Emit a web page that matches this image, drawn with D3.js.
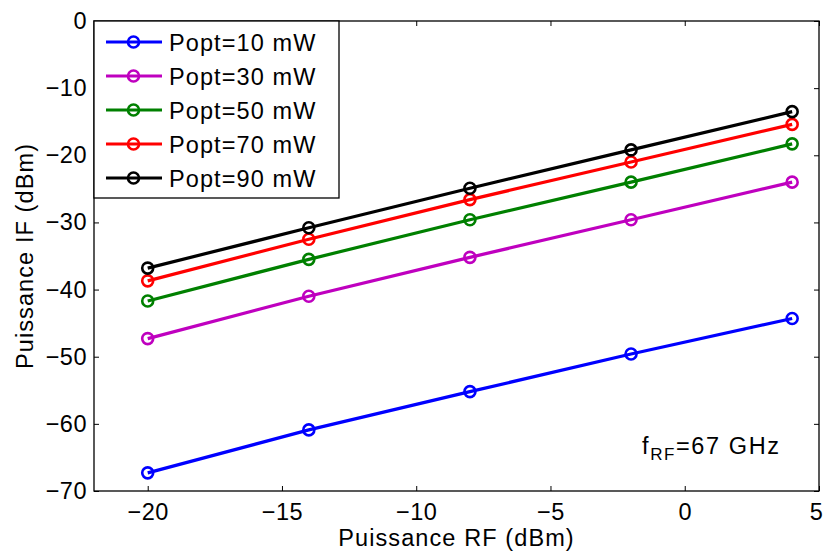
<!DOCTYPE html>
<html>
<head>
<meta charset="utf-8">
<script src="https://cdnjs.cloudflare.com/ajax/libs/d3/7.8.5/d3.min.js"></script>
<style>
  body { margin: 0; background: #fff; }
  text { font-family: "Liberation Sans", Arial, sans-serif; letter-spacing: 1.1px; }
</style>
</head>
<body>
<script>
// RF power sweep (dBm)
var rfPower = [-20, -14, -8, -2, 4];

// IF power (dBm) for each optical power
var popt10 = [-67.3, -60.9, -55.2, -49.6, -44.3];
var popt30 = [-47.3, -41.0, -35.2, -29.6, -24.0];
var popt50 = [-41.7, -35.5, -29.6, -24.0, -18.3];
var popt70 = [-38.7, -32.5, -26.6, -21.0, -15.4];
var popt90 = [-36.8, -30.8, -24.9, -19.2, -13.5];

var seriesNames = ["Popt=10 mW", "Popt=30 mW", "Popt=50 mW", "Popt=70 mW", "Popt=90 mW"];
var seriesColors = ["#0000ff", "#bf00bf", "#008000", "#ff0000", "#000000"];
var seriesValues = [popt10, popt30, popt50, popt70, popt90];

var xTicks = [-20, -15, -10, -5, 0, 5];
var yTicks = [0, -10, -20, -30, -40, -50, -60, -70];

var width = 825, height = 554;
var margin = {top: 21, right: 6, bottom: 63, left: 94};
var fs = 23.5;

var svg = d3.select("body").append("svg")
    .attr("width", width)
    .attr("height", height);

var x = d3.scaleLinear().domain([-22, 5]).range([margin.left, width - margin.right]);
var y = d3.scaleLinear().domain([-70, 0]).range([height - margin.bottom, margin.top]);

var minus = function(d) { return d < 0 ? "\u2212" + Math.abs(d) : "" + d; };

// axes, ticks inward on all four sides
var gx = svg.append("g")
    .attr("transform", "translate(0," + y(-70) + ")")
    .call(d3.axisBottom(x).tickValues(xTicks).tickSizeInner(-5).tickSizeOuter(0).tickPadding(12).tickFormat(minus));
var gxt = svg.append("g")
    .attr("transform", "translate(0," + y(0) + ")")
    .call(d3.axisTop(x).tickValues(xTicks).tickSizeInner(-5).tickSizeOuter(0).tickFormat(""));
var gy = svg.append("g")
    .attr("transform", "translate(" + x(-22) + ",0)")
    .call(d3.axisLeft(y).tickValues(yTicks).tickSizeInner(-5).tickSizeOuter(0).tickPadding(7).tickFormat(minus));
var gyr = svg.append("g")
    .attr("transform", "translate(" + x(5) + ",0)")
    .call(d3.axisRight(y).tickValues(yTicks).tickSizeInner(-5).tickSizeOuter(0).tickFormat(""));

[gx, gxt, gy, gyr].forEach(function(g) {
  g.select(".domain").remove();
  g.selectAll("line").attr("stroke", "#000").attr("stroke-width", 1);
  g.selectAll("text").attr("font-size", fs).attr("fill", "#000")
    .style("letter-spacing", "0.5px")
    .style("font-family", "'Liberation Sans', Arial, sans-serif");
});
// keep the last x label inside the page
gx.selectAll(".tick text").filter(function(d) { return d === 5; }).attr("dx", -3);

svg.append("rect")
    .attr("x", x(-22)).attr("y", y(0))
    .attr("width", x(5) - x(-22)).attr("height", y(-70) - y(0))
    .attr("fill", "none").attr("stroke", "#000").attr("stroke-width", 1.3);

// series
var line = d3.line()
    .x(function(d, i) { return x(rfPower[i]); })
    .y(function(d) { return y(d); });

seriesValues.forEach(function(vals, s) {
  svg.append("path")
      .datum(vals)
      .attr("d", line)
      .attr("fill", "none")
      .attr("stroke", seriesColors[s])
      .attr("stroke-width", 3.2);
  svg.selectAll(".m" + s)
      .data(vals)
      .enter().append("circle")
      .attr("cx", function(d, i) { return x(rfPower[i]); })
      .attr("cy", function(d) { return y(d); })
      .attr("r", 5.5)
      .attr("fill", "none")
      .attr("stroke", seriesColors[s])
      .attr("stroke-width", 2.6);
});

// legend
var legend = svg.append("g");
legend.append("rect")
    .attr("x", x(-22)).attr("y", y(0))
    .attr("width", 245).attr("height", 177)
    .attr("fill", "#fff").attr("stroke", "#000").attr("stroke-width", 1.3);

seriesNames.forEach(function(name, s) {
  var ly = 42 + s * 34;
  legend.append("line")
      .attr("x1", 106).attr("x2", 162).attr("y1", ly).attr("y2", ly)
      .attr("stroke", seriesColors[s]).attr("stroke-width", 3.2);
  legend.append("circle")
      .attr("cx", 133.5).attr("cy", ly).attr("r", 5.5)
      .attr("fill", "none").attr("stroke", seriesColors[s]).attr("stroke-width", 2.6);
  legend.append("text")
      .attr("x", 169).attr("y", ly + 8.5)
      .attr("font-size", fs)
      .text(name);
});

// annotation
var ann = svg.append("text")
    .attr("x", 642).attr("y", 454)
    .attr("font-size", fs)
    .style("letter-spacing", "1.6px");
ann.append("tspan").text("f");
ann.append("tspan").attr("font-size", 17).attr("dy", 6).text("RF");
ann.append("tspan").attr("dy", -6).text("=67 GHz");

// axis titles
svg.append("text")
    .attr("x", (x(-22) + x(5)) / 2).attr("y", 546)
    .attr("text-anchor", "middle")
    .attr("font-size", fs)
    .text("Puissance RF (dBm)");

svg.append("text")
    .attr("transform", "translate(33," + ((y(0) + y(-70)) / 2) + ") rotate(-90)")
    .attr("text-anchor", "middle")
    .attr("font-size", fs)
    .text("Puissance IF (dBm)");
</script>
</body>
</html>
